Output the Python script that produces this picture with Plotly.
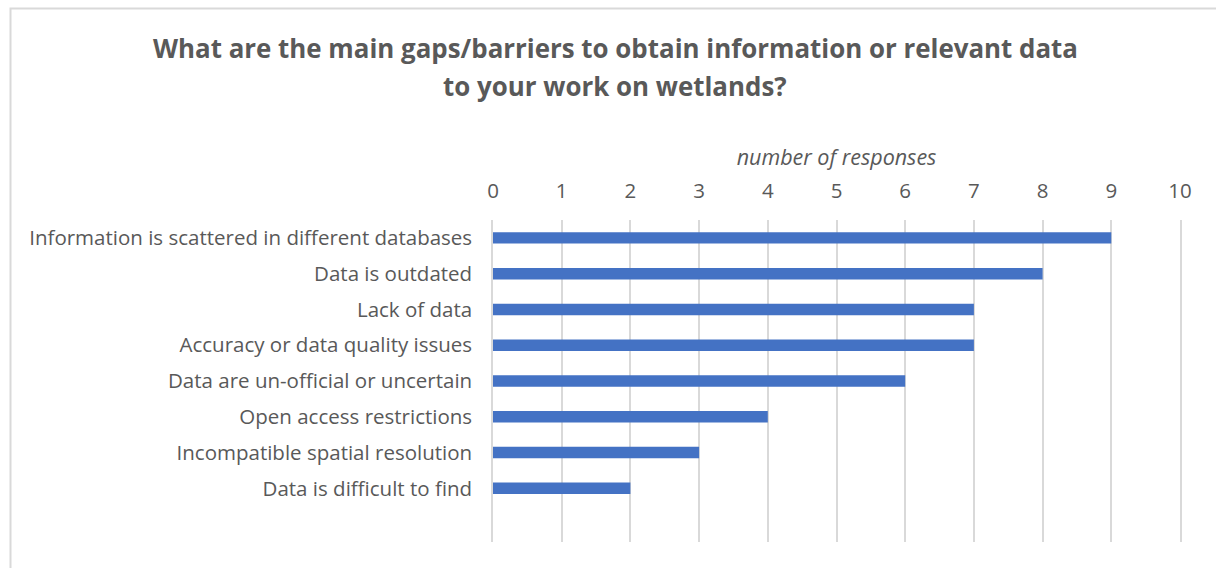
import plotly.graph_objects as go

# Survey results: main gaps/barriers to obtaining wetland data
categories = [
    "Information is scattered in different databases",
    "Data is outdated",
    "Lack of data",
    "Accuracy or data quality issues",
    "Data are un-official or uncertain",
    "Open access restrictions",
    "Incompatible spatial resolution",
    "Data is difficult to find",
]
responses = [9, 8, 7, 7, 6, 4, 3, 2]
x_ticks = list(range(0, 11))
title_lines = [
    "What are the main gaps/barriers to obtain information or relevant data",
    "to your work on wetlands?",
]

TEXT = "#595959"
GRID = "#d9d9d9"
BAR = "#4472C4"
FONT = "Open Sans"

W, H = 1216, 568
L, R, T, B = 493, 36, 220, 26
pw, ph = W - L - R, H - T - B


def px_to_paper_x(px):
    return (px - L) / pw


def px_to_paper_y(py):
    return (H - B - py) / ph


fig = go.Figure(
    go.Bar(
        x=responses,
        y=categories,
        orientation="h",
        marker=dict(color=BAR, line=dict(width=0)),
        width=0.32,
    )
)

title_annotations = [
    dict(
        text=f"<b>{line}</b>",
        xref="paper",
        yref="paper",
        x=px_to_paper_x(615),
        y=px_to_paper_y(cy),
        xanchor="center",
        yanchor="middle",
        showarrow=False,
        font=dict(size=25.9, color=TEXT, family=FONT),
    )
    for line, cy in zip(title_lines, [48, 86])
]

fig.update_layout(
    width=W,
    height=H,
    margin=dict(l=L, r=R, t=T, b=B),
    paper_bgcolor="white",
    plot_bgcolor="white",
    showlegend=False,
    font=dict(family=FONT, color=TEXT),
    xaxis=dict(
        side="top",
        range=[0, 10],
        tickvals=x_ticks,
        ticktext=[str(v) for v in x_ticks],
        showgrid=True,
        gridcolor=GRID,
        gridwidth=1.5,
        zeroline=False,
        showline=False,
        ticks="outside",
        ticklen=13,
        tickcolor="rgba(0,0,0,0)",
        tickfont=dict(size=20.5, color=TEXT),
        title=dict(
            text="<i>number of responses</i>",
            font=dict(size=21.5, color=TEXT),
            standoff=4,
        ),
        fixedrange=True,
    ),
    yaxis=dict(
        type="category",
        categoryorder="array",
        categoryarray=categories,
        range=[8.5, -0.5],
        showgrid=False,
        zeroline=False,
        showline=True,
        mirror=True,
        linecolor=GRID,
        linewidth=1.5,
        ticks="",
        ticklabelstandoff=15,
        tickfont=dict(size=20.5, color=TEXT),
        fixedrange=True,
    ),
    annotations=title_annotations,
    shapes=[
        dict(
            type="rect",
            xref="paper",
            yref="paper",
            x0=px_to_paper_x(10.5),
            x1=px_to_paper_x(1222),
            y0=px_to_paper_y(575),
            y1=px_to_paper_y(8.5),
            line=dict(color="#d9d9d9", width=2),
            fillcolor="rgba(0,0,0,0)",
            layer="below",
        )
    ],
)

fig.write_html("out.html")
